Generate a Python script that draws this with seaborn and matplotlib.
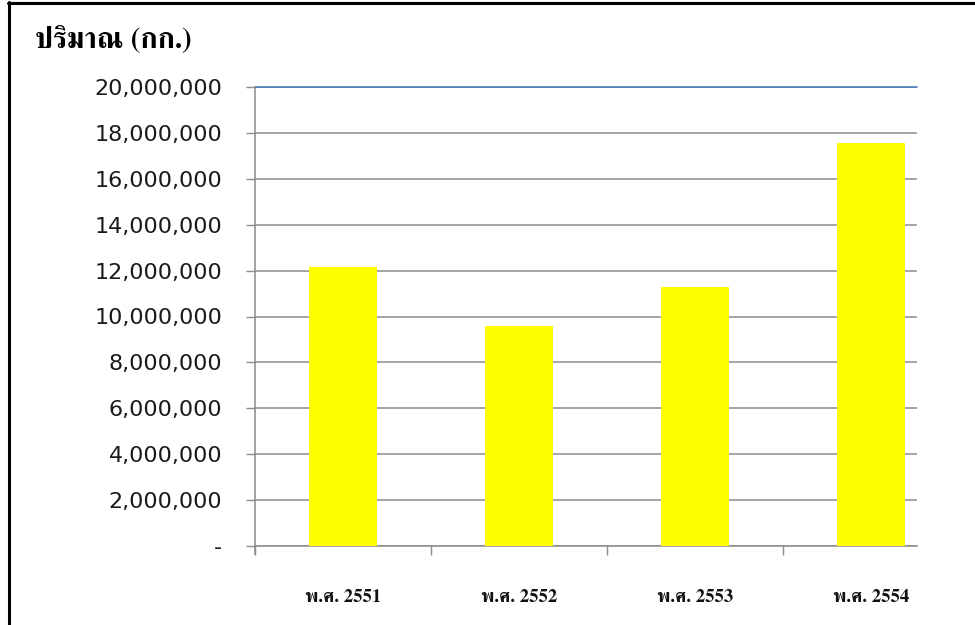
import matplotlib
matplotlib.use("Agg")
import matplotlib.pyplot as plt
from matplotlib import font_manager as fm
from matplotlib.ticker import FuncFormatter, FixedLocator
import seaborn as sns
import pandas as pd

# ---- data ----
years = ["พ.ศ. 2551", "พ.ศ. 2552", "พ.ศ. 2553", "พ.ศ. 2554"]
quantity_kg = [12150000, 9580000, 11280000, 17560000]
y_ticks = [0, 2000000, 4000000, 6000000, 8000000, 10000000,
           12000000, 14000000, 16000000, 18000000, 20000000]
title_text = "ปริมาณ (กก.)"


def find_thai_fonts():
    found = []
    try:
        from fontTools.ttLib import TTFont
    except Exception:
        return found
    seen = set()
    for f in fm.fontManager.ttflist:
        if f.fname in seen:
            continue
        seen.add(f.fname)
        try:
            tt = TTFont(f.fname, fontNumber=0, lazy=True)
            cmap = tt.getBestCmap()
            if cmap and 0x0E1B in cmap and 0x0E13 in cmap and 0x0E28 in cmap:
                found.append(f.name)
        except Exception:
            pass
    return found


sns.set_style("white")
thai = find_thai_fonts()
serif_pref = [n for n in thai if "Serif" in n] + [n for n in thai if "Serif" not in n]
plt.rcParams["font.family"] = ["DejaVu Sans"]

fig = plt.figure(figsize=(9.75, 6.25), dpi=100)
ax = fig.add_axes([255 / 975, 1 - 546 / 625, (917 - 255) / 975, (546 - 87) / 625])

df = pd.DataFrame({"year": years, "qty": quantity_kg})
sns.barplot(data=df, x="year", y="qty", color="#FFFF00", saturation=1,
            width=0.39, linewidth=0, ax=ax, zorder=3)

ax.set_xlim(-0.5, 3.261)
ax.set_ylim(0, 20000000)
ax.set_xlabel("")
ax.set_ylabel("")

# y axis
ax.yaxis.set_major_locator(FixedLocator(y_ticks))
ax.yaxis.set_major_formatter(FuncFormatter(lambda v, p: "-" if v == 0 else f"{int(v):,}"))
ax.tick_params(axis="y", which="major", length=6.5, width=1, color="#8c8c8c",
               pad=17, labelsize=16, labelcolor="#1a1a1a", left=True, direction="out")
ax.grid(axis="y", color="#8c8c8c", linewidth=1.1, zorder=0)
ax.set_axisbelow(True)
ax.axhline(y_ticks[-1], color="#4a7ebb", linewidth=1.2, zorder=1, clip_on=False)

# x axis
ax.set_xticks(range(len(years)))
ax.set_xticks([-0.5, 0.5, 1.5, 2.5], minor=True)
xfam = (serif_pref[:1] if serif_pref else []) + ["DejaVu Serif"]
ax.set_xticklabels(years, fontsize=13.5, fontweight="bold", family=xfam, color="#111111")
ax.tick_params(axis="x", which="major", length=0, pad=31)
ax.tick_params(axis="x", which="minor", length=6.5, width=1, color="#8c8c8c",
               direction="out", bottom=True)

for s in ["top", "right"]:
    ax.spines[s].set_visible(False)
for s in ["left", "bottom"]:
    ax.spines[s].set_color("#8c8c8c")
    ax.spines[s].set_linewidth(1.1)
ax.spines["left"].set_bounds(-350000, 20000000)

# title
tfam = (serif_pref[:1] if serif_pref else []) + ["DejaVu Serif"]
fig.text(35 / 975, 1 - 40 / 625, title_text, fontsize=21, fontweight="bold",
         family=tfam, ha="left", va="center", color="#000000")

# outer border lines (left and top)
fig.add_artist(plt.Line2D([9 / 975, 9 / 975], [0, 1 - 2 / 625], color="black",
                          linewidth=2.2, transform=fig.transFigure))
fig.add_artist(plt.Line2D([8 / 975, 1], [1 - 3 / 625, 1 - 3 / 625], color="black",
                          linewidth=2.2, transform=fig.transFigure))

fig.savefig("out.png", dpi=100)
